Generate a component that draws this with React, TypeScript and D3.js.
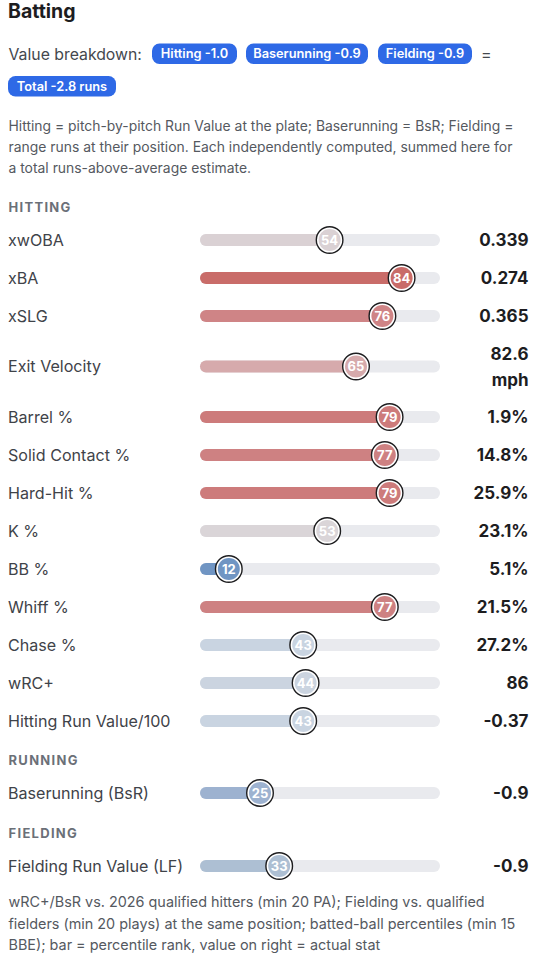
import React from "react";
import * as d3 from "d3";

const hittingLabels = ["xwOBA","xBA","xSLG","Exit Velocity","Barrel %","Solid Contact %","Hard-Hit %","K %","BB %","Whiff %","Chase %","wRC+","Hitting Run Value/100"];
const hittingPct = [54,84,76,65,79,77,79,53,12,77,43,44,43];
const hittingVals = [["0.339"],["0.274"],["0.365"],["82.6","mph"],["1.9%"],["14.8%"],["25.9%"],["23.1%"],["5.1%"],["21.5%"],["27.2%"],["86"],["-0.37"]];
const runningLabels = ["Baserunning (BsR)"];
const runningPct = [25];
const runningVals = [["-0.9"]];
const fieldingLabels = ["Fielding Run Value (LF)"];
const fieldingPct = [33];
const fieldingVals = [["-0.9"]];
const pills = ["Hitting -1.0","Baserunning -0.9","Fielding -0.9"];
const totalPill = "Total -2.8 runs";
const intro = ["Hitting = pitch-by-pitch Run Value at the plate; Baserunning = BsR; Fielding =","range runs at their position. Each independently computed, summed here for","a total runs-above-average estimate."];
const notes = ["wRC+/BsR vs. 2026 qualified hitters (min 20 PA); Fielding vs. qualified","fielders (min 20 plays) at the same position; batted-ball percentiles (min 15","BBE); bar = percentile rank, value on right = actual stat"];

const font = "Inter, 'Liberation Sans', sans-serif";
const x = d3.scaleLinear().domain([0, 100]).range([200, 440]);
const color = d3.scaleLinear<string>()
  .domain([12, 25, 33, 43, 53, 65, 76, 84])
  .range(["#7095c3", "#9db2d0", "#adbfd3", "#c9d4e1", "#dad5d8", "#d6aaac", "#cf8486", "#c96c69"]);

function Row({ y, label, pct, vals }: { y: number; label: string; pct: number; vals: string[] }) {
  const c = color(pct);
  const cx = x(pct);
  return (
    <g>
      <text x={8} y={y + 5.5} fontSize={16.1} fill="#3f4349">{label}</text>
      <rect x={x(0)} y={y - 6} width={x(100) - x(0)} height={12} rx={6} fill="#e9eaee" />
      <rect x={x(0)} y={y - 6} width={cx - x(0)} height={12} rx={6} fill={c} />
      <circle cx={cx} cy={y} r={13.3} fill="#fff" stroke="#1d1d1f" strokeWidth={1.4} />
      <circle cx={cx} cy={y} r={11} fill={c} />
      <text x={cx} y={y + 4.6} fontSize={13} fontWeight={700} fill="#fff" textAnchor="middle">{pct}</text>
      {vals.length === 1 ? (
        <text x={528.5} y={y + 6} fontSize={17} fontWeight={700} fill="#1d1d1f" textAnchor="end">{vals[0]}</text>
      ) : (
        vals.map((v, i) => (
          <text key={v} x={528.5} y={y - 7 + i * 26} fontSize={17} fontWeight={700} fill="#1d1d1f" textAnchor="end">{v}</text>
        ))
      )}
    </g>
  );
}

function Section({ y, text }: { y: number; text: string }) {
  return <text x={8.5} y={y} fontSize={13} fontWeight={700} letterSpacing={1.3} fill="#6b7078">{text}</text>;
}

function Pill({ x0, x1, y, text }: { x0: number; x1: number; y: number; text: string }) {
  return (
    <g>
      <rect x={x0} y={y} width={x1 - x0} height={20.5} rx={7.5} fill="#2e69e6" />
      <text x={(x0 + x1) / 2} y={y + 14.7} fontSize={12.8} fontWeight={600} fill="#fff" textAnchor="middle">{text}</text>
    </g>
  );
}

const rowGap = 38;
const tallGap = 50.5;

export default function App() {
  let cursor = 240;
  const hittingYs = hittingLabels.map((_, i) => {
    const y = cursor;
    const tallNow = hittingVals[i].length > 1;
    const tallNext = i + 1 < hittingVals.length && hittingVals[i + 1].length > 1;
    cursor += tallNow || tallNext ? tallGap : rowGap;
    return y;
  });
  const pillEdges: [number, number][] = [[152, 237], [246, 368], [378, 472]];
  return (
    <svg width={537} height={960} viewBox="0 0 537 960" style={{ position: "absolute", left: 0, top: 0, background: "#fff" }} fontFamily={font}>
      <text x={8} y={18} fontSize={19.5} fontWeight={700} fill="#1d1d1f">Batting</text>
      <text x={8.5} y={60} fontSize={15.8} fill="#44484e">Value breakdown:</text>
      {pills.map((p, i) => <Pill key={p} x0={pillEdges[i][0]} x1={pillEdges[i][1]} y={43.5} text={p} />)}
      <text x={481} y={60} fontSize={16} fill="#44484e">=</text>
      <Pill x0={8} x1={116} y={76} text={totalPill} />
      {intro.map((t, i) => <text key={t} x={8.5} y={131 + i * 21} fontSize={13.9} fill="#55595f">{t}</text>)}

      <Section y={212} text="HITTING" />
      {hittingLabels.map((l, i) => <Row key={l} y={hittingYs[i]} label={l} pct={hittingPct[i]} vals={hittingVals[i]} />)}
      <Section y={765} text="RUNNING" />
      {runningLabels.map((l, i) => <Row key={l} y={793} label={l} pct={runningPct[i]} vals={runningVals[i]} />)}
      <Section y={838} text="FIELDING" />
      {fieldingLabels.map((l, i) => <Row key={l} y={866} label={l} pct={fieldingPct[i]} vals={fieldingVals[i]} />)}
      {notes.map((t, i) => <text key={t} x={8.5} y={907 + i * 21.5} fontSize={14.4} fill="#55595f">{t}</text>)}
    </svg>
  );
}
